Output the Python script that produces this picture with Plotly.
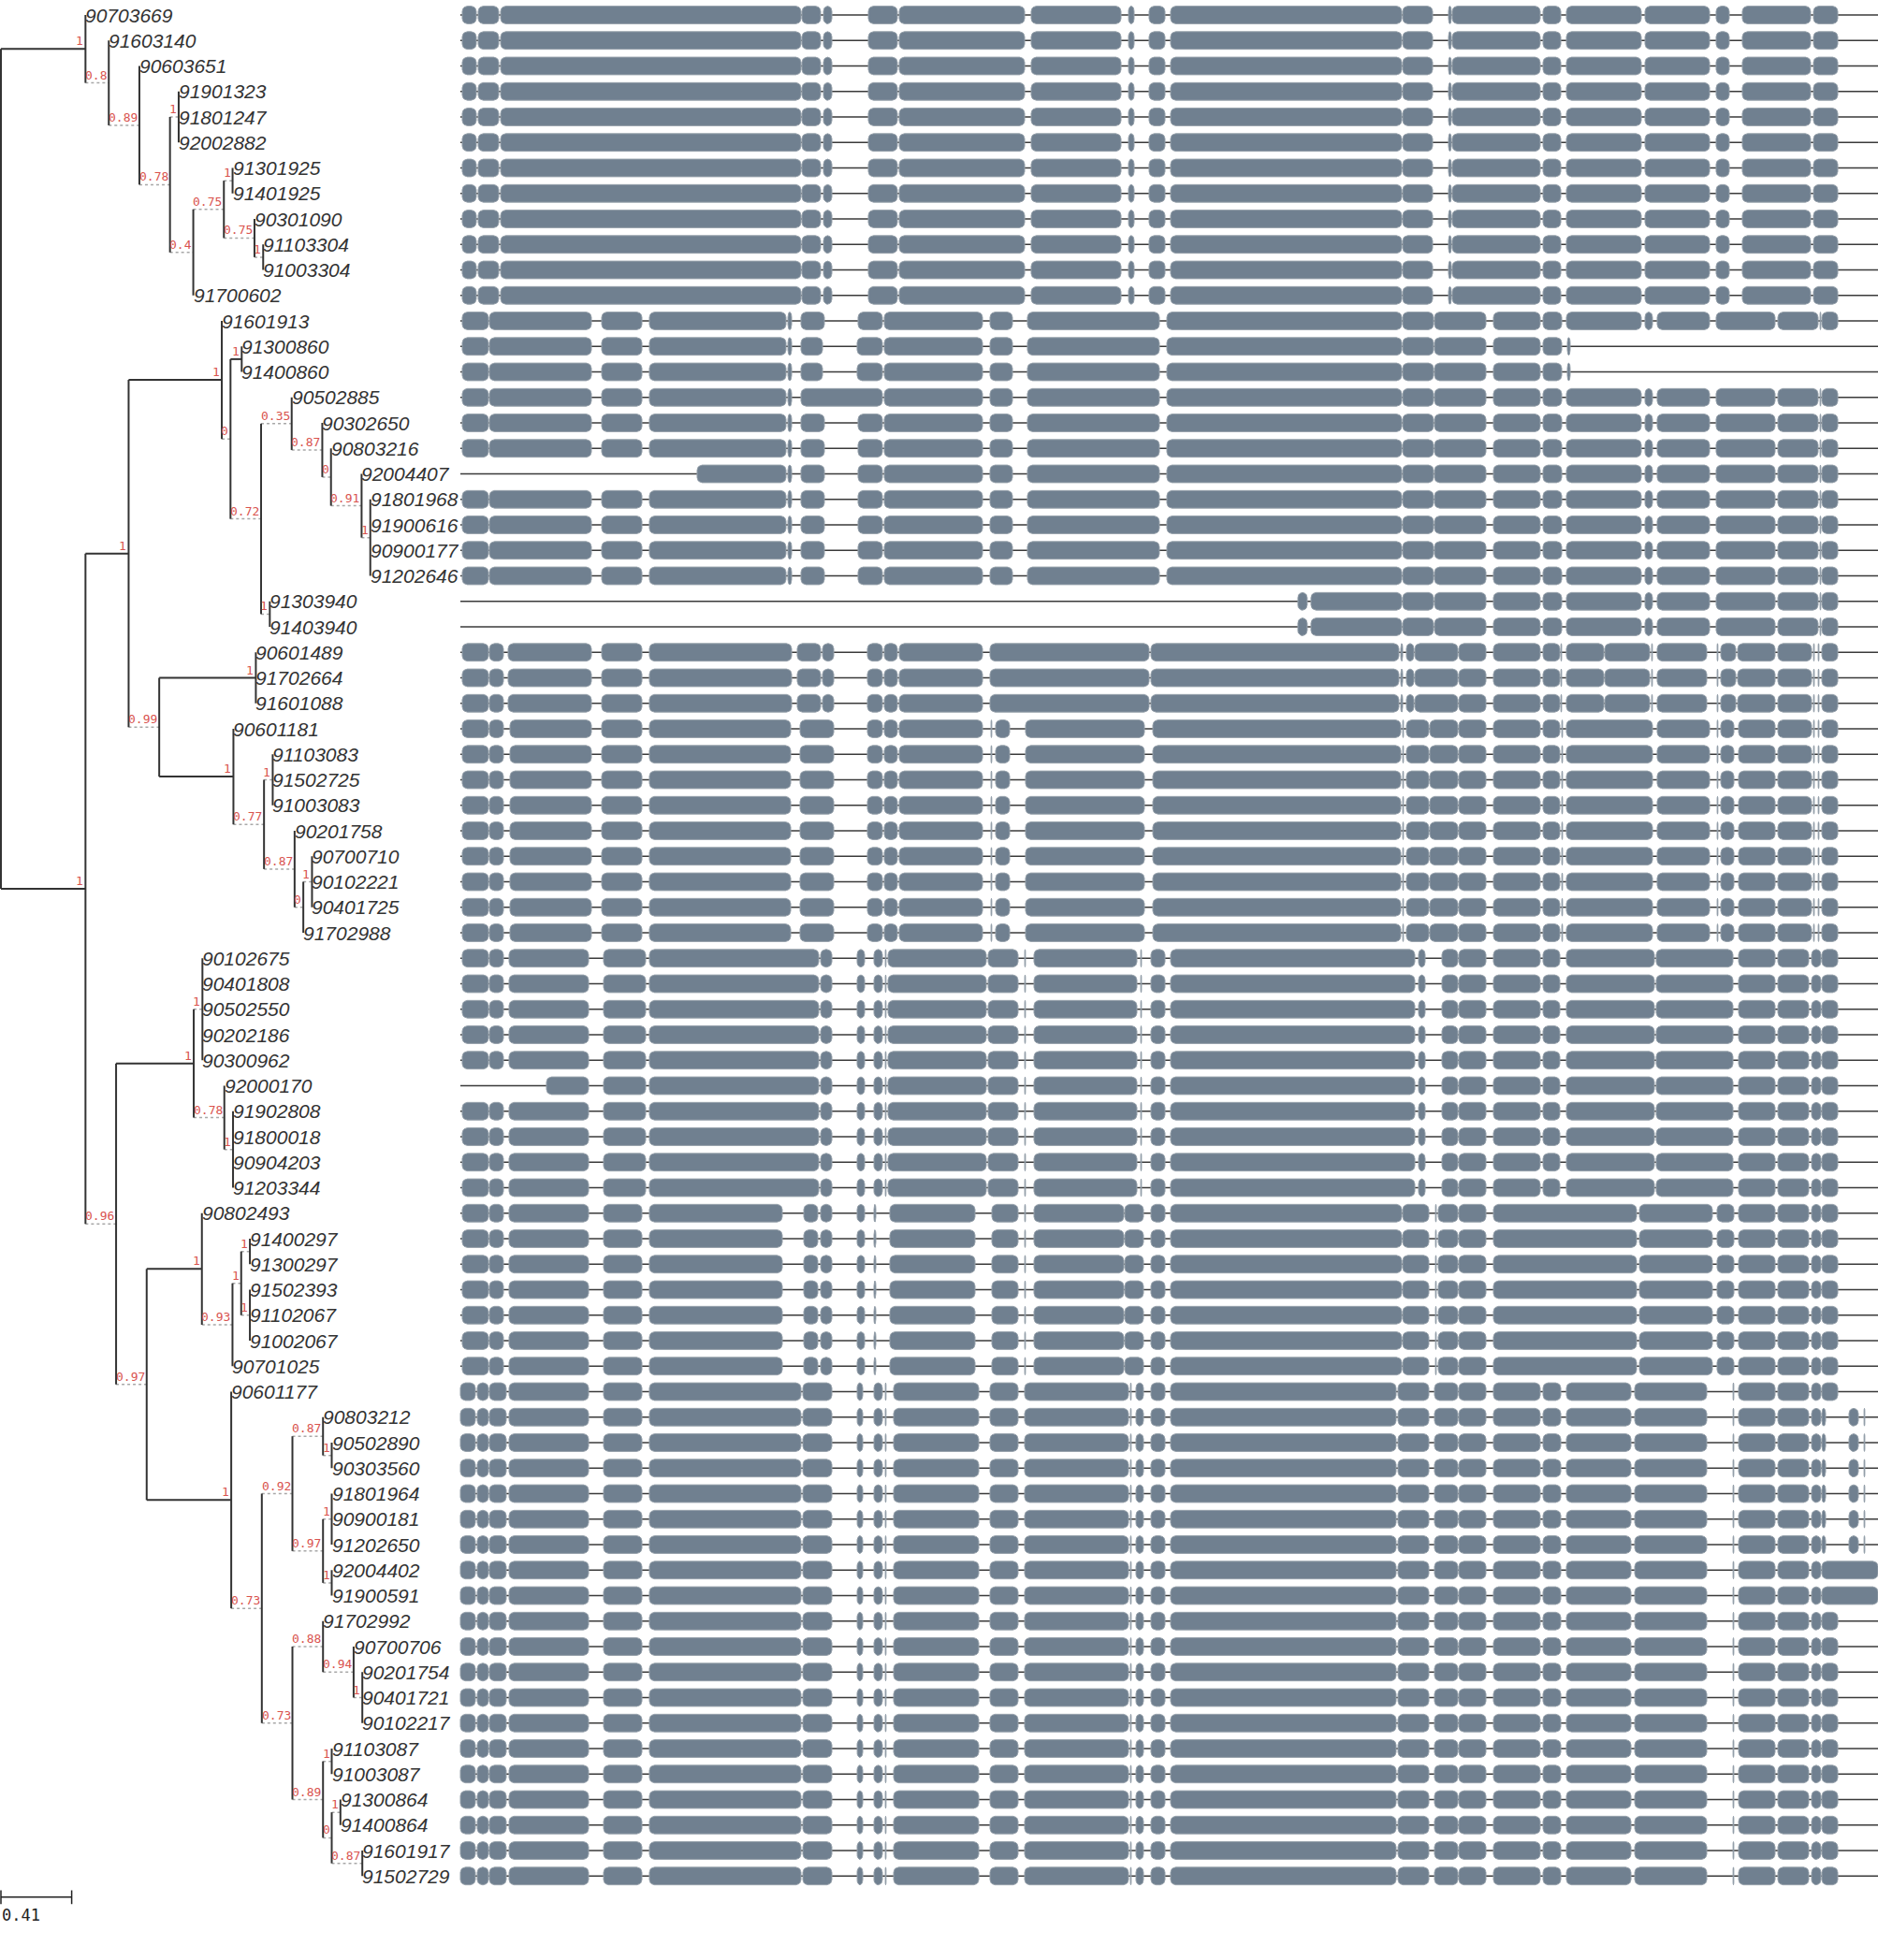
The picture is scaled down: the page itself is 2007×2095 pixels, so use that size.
import math
import plotly.graph_objects as go

# ---------------- DATA ----------------
# Tree (Newick): internal labels are support values, branch lengths in substitutions/site
NEWICK = (
    "("
    "(90703669:0,(91603140:0,(90603651:0,((91901323:0,91801247:0,92002882:0)1:0,"
    "(((91301925:0,91401925:0)1:0,(90301090:0,(91103304:0,91003304:0)1:0)0.75:0)0.75:0,"
    "91700602:0)0.4:0)0.78:0)0.89:0)0.8:0)1:0.49,"
    "("
    "((91601913:0,((91300860:0,91400860:0)1:0.065,"
    "((90502885:0,(90302650:0,(90803216:0,(92004407:0,(91801968:0,91900616:0,90900177:0,"
    "91202646:0)1:0)0.91:0)0:0)0.87:0)0.35:0,(91303940:0,91403940:0)1:0)0.72:0)0:0)1:0.54,"
    "((90601489:0,91702664:0,91601088:0)1:0.56,"
    "(90601181:0,((91103083:0,91502725:0,91003083:0)1:0,"
    "(90201758:0,((90700710:0,90102221:0,90401725:0)1:0,91702988:0)0:0)0.87:0)0.77:0)1:0.43)0.99:0)1:0.25,"
    "(((90102675:0,90401808:0,90502550:0,90202186:0,90300962:0)1:0,"
    "(92000170:0,(91902808:0,91800018:0,90904203:0,91203344:0)1:0)0.78:0)1:0.45,"
    "((90802493:0,(((91400297:0,91300297:0)1:0,(91502393:0,91102067:0,91002067:0)1:0)1:0,"
    "90701025:0)0.93:0)1:0.32,"
    "(90601177:0,("
    "((90803212:0,(90502890:0,90303560:0)1:0)0.87:0,((91801964:0,90900181:0,91202650:0)1:0,"
    "(92004402:0,91900591:0)1:0)0.97:0)0.92:0,"
    "((91702992:0,(90700706:0,(90201754:0,90401721:0,90102217:0)1:0)0.94:0)0.88:0,"
    "((91103087:0,91003087:0)1:0,((91300864:0,91400864:0)1:0,(91601917:0,91502729:0)0.87:0)0:0)0.89:0)0.73:0"
    ")0.73:0)1:0.49)0.97:0)0.96:0"
    ")1:0.49"
    ");"
)

SCALE_BAR_LEN = 0.41
GENE_LEN = 1515  # alignment length (positions)

# exon (start, end) positions along the alignment, per gene model
EXONS_A = [(2, 17), (19, 41), (43, 364), (365, 385), (388, 397), (436, 467), (469, 603), (610, 706),
           (714, 720), (736, 753), (759, 1006), (1007, 1039), (1056, 1059), (1060, 1154), (1157, 1176),
           (1182, 1262), (1266, 1335), (1342, 1356), (1370, 1443), (1446, 1472)]
EXONS_B = [(2, 30), (31, 140), (151, 194), (202, 348), (350, 354), (364, 389), (425, 451), (453, 558),
           (566, 590), (606, 747), (755, 1006), (1007, 1040), (1041, 1096), (1104, 1154), (1157, 1177),
           (1182, 1262), (1266, 1274), (1279, 1335), (1342, 1405), (1408, 1451), (1453, 1454), (1455, 1472)]
EXONS_B_SHORT = [(2, 30), (31, 140), (151, 194), (202, 348), (350, 354), (364, 387), (424, 451), (453, 558),
                 (566, 590), (606, 747), (755, 1006), (1007, 1040), (1041, 1096), (1104, 1154), (1157, 1177),
                 (1183, 1186)]
EXONS_B_FUSED = [(2, 30), (31, 140), (151, 194), (202, 348), (350, 354), (364, 451), (453, 558),
                 (566, 590), (606, 747), (755, 1006), (1007, 1040), (1041, 1096), (1104, 1154), (1157, 1177),
                 (1182, 1262), (1266, 1274), (1279, 1335), (1342, 1405), (1408, 1451), (1453, 1454), (1455, 1472)]
EXONS_B_LATE = [(253, 348), (350, 354), (364, 389), (425, 451), (453, 558),
                (566, 590), (606, 747), (755, 1006), (1007, 1040), (1041, 1096), (1104, 1154), (1157, 1177),
                (1182, 1262), (1266, 1274), (1279, 1335), (1342, 1405), (1408, 1451), (1453, 1454), (1455, 1472)]
EXONS_B_END = [(895, 905), (909, 1006), (1007, 1040), (1041, 1096), (1104, 1154), (1157, 1177),
               (1182, 1262), (1266, 1274), (1279, 1335), (1342, 1405), (1408, 1451), (1453, 1454), (1455, 1472)]
EXONS_C = [(2, 30), (31, 46), (51, 140), (151, 194), (202, 354), (360, 385), (387, 399), (435, 451),
           (453, 467), (469, 558), (566, 736), (738, 1003), (1005, 1007), (1011, 1019), (1020, 1066),
           (1067, 1096), (1104, 1154), (1157, 1175), (1176, 1177), (1182, 1222), (1223, 1271), (1273, 1274),
           (1279, 1332), (1343, 1344), (1347, 1363), (1365, 1405), (1408, 1444), (1446, 1447), (1451, 1452),
           (1455, 1472)]
EXONS_D = [(2, 30), (31, 46), (53, 140), (151, 194), (202, 353), (363, 399), (435, 451), (453, 467),
           (469, 558), (567, 568), (572, 587), (604, 731), (740, 1005), (1007, 1008), (1011, 1035),
           (1036, 1066), (1067, 1096), (1104, 1154), (1157, 1175), (1177, 1178), (1182, 1274), (1279, 1335),
           (1343, 1344), (1347, 1361), (1366, 1405), (1408, 1444), (1446, 1447), (1451, 1452), (1455, 1472)]
EXONS_E = [(2, 30), (31, 46), (52, 137), (153, 198), (202, 383), (385, 397), (424, 432), (442, 451),
           (454, 455), (457, 562), (564, 596), (603, 604), (613, 723), (727, 728), (738, 753), (759, 1020),
           (1024, 1031), (1049, 1066), (1067, 1096), (1104, 1154), (1157, 1175), (1182, 1276), (1278, 1360),
           (1366, 1405), (1408, 1441), (1444, 1454), (1455, 1472)]
EXONS_E_LATE = [(92, 137), (153, 198), (202, 383), (385, 397), (424, 432), (442, 451),
                (454, 455), (457, 562), (564, 596), (603, 604), (613, 723), (727, 728), (738, 753), (759, 1020),
                (1024, 1031), (1049, 1066), (1067, 1096), (1104, 1154), (1157, 1175), (1182, 1276), (1278, 1360),
                (1366, 1405), (1408, 1441), (1444, 1454), (1455, 1472)]
EXONS_F = [(2, 30), (31, 46), (52, 137), (153, 194), (202, 344), (367, 382), (385, 397), (424, 432),
           (442, 444), (459, 550), (568, 596), (603, 604), (613, 709), (710, 730), (738, 753), (759, 1006),
           (1007, 1035), (1042, 1043), (1045, 1066), (1067, 1096), (1104, 1257), (1260, 1338), (1343, 1361),
           (1366, 1405), (1408, 1441), (1444, 1454), (1455, 1472)]
EXONS_G = [(0, 16), (18, 30), (31, 49), (52, 137), (153, 194), (202, 364), (366, 397), (424, 430),
           (442, 451), (454, 455), (463, 554), (566, 596), (603, 714), (716, 717), (722, 730), (738, 753),
           (759, 1000), (1002, 1035), (1041, 1066), (1067, 1096), (1104, 1154), (1157, 1176), (1182, 1251),
           (1255, 1332), (1360, 1361), (1366, 1405), (1408, 1441), (1444, 1454), (1455, 1472)]
EXONS_G_TAIL = EXONS_G[:-1] + [(1455, 1459), (1484, 1494), (1500, 1501)]
EXONS_G_LONG = EXONS_G[:-1] + [(1455, 1515)]

MODELS = {"A": EXONS_A, "B": EXONS_B, "Bs": EXONS_B_SHORT, "Bf": EXONS_B_FUSED, "Bl": EXONS_B_LATE,
          "Be": EXONS_B_END, "C": EXONS_C, "D": EXONS_D, "E": EXONS_E, "El": EXONS_E_LATE,
          "F": EXONS_F, "G": EXONS_G, "Gt": EXONS_G_TAIL, "Gl": EXONS_G_LONG}

# gene model of each leaf, in tree (top-to-bottom) order
ROW_MODELS = (["A"] * 12
              + ["B", "Bs", "Bs", "Bf", "B", "B", "Bl", "B", "B", "B", "B", "Be", "Be"]
              + ["C"] * 3 + ["D"] * 9
              + ["E"] * 5 + ["El"] + ["E"] * 4
              + ["F"] * 7
              + ["G"] + ["Gt"] * 6 + ["Gl"] * 2 + ["G"] * 11)

# ---------------- STYLE / GEOMETRY ----------------
W, H = 2007, 2095
PPU = 184.4          # tree pixels per branch-length unit
TREE_X0 = 1          # px of root
GENE_X0 = 492        # px of alignment start
ROW0, ROWH = 16, 27.25
SUP_CHAR = 7.8       # px per support-label char
EXON_H = 0.69        # rows
RAD_PX = 5.5

LINE_C = "#333333"
SUP_C = "#d9534f"
EXON_C = "#708090"


# ---------------- TREE ----------------
def parse_newick(s):
    pos = 0

    def node():
        nonlocal pos
        n = {"children": [], "name": "", "support": None, "dist": 0.0}
        if s[pos] == "(":
            pos += 1
            while True:
                n["children"].append(node())
                if s[pos] == ",":
                    pos += 1
                    continue
                if s[pos] == ")":
                    pos += 1
                    break
        start = pos
        while s[pos] not in ":,);":
            pos += 1
        label = s[start:pos]
        if s[pos] == ":":
            pos += 1
            start = pos
            while s[pos] not in ",);":
                pos += 1
            n["dist"] = float(s[start:pos])
        if n["children"]:
            n["support"] = label or None
        else:
            n["name"] = label
        return n

    return node()


tree = parse_newick(NEWICK)
leaves = []
internals = []


def place(n, parent_x):
    if parent_x is None:
        n["x"] = n["solid_end"] = 0.0
    else:
        ext = (len(n["support"]) * SUP_CHAR + 1.5) / PPU if n["support"] else 0.0
        n["solid_end"] = parent_x + n["dist"]
        n["x"] = max(n["solid_end"], parent_x + ext)
    n["px"] = parent_x
    if n["children"]:
        for c in n["children"]:
            place(c, n["x"])
        n["y"] = (n["children"][0]["y"] + n["children"][-1]["y"]) / 2
        internals.append(n)
    else:
        n["y"] = len(leaves)
        leaves.append(n)


place(tree, None)

sx, sy, dx, dy = [], [], [], []
for n in internals + leaves:
    if n["px"] is not None:
        if n["solid_end"] > n["px"]:
            sx += [n["px"], n["solid_end"], None]
            sy += [n["y"], n["y"], None]
        if n["x"] > n["solid_end"] + 1e-9:
            dx += [n["solid_end"], n["x"], None]
            dy += [n["y"], n["y"], None]
    if n["children"]:
        sx += [n["x"], n["x"], None]
        sy += [n["children"][0]["y"], n["children"][-1]["y"], None]

fig = go.Figure()
fig.add_trace(go.Scatter(x=dx, y=dy, mode="lines", line=dict(color="#a8a8a8", width=1.5, dash="dot"),
                         hoverinfo="skip", showlegend=False))
fig.add_trace(go.Scatter(x=sx, y=sy, mode="lines", line=dict(color=LINE_C, width=2),
                         hoverinfo="skip", showlegend=False))

annotations = []
for n in leaves:
    annotations.append(dict(x=n["x"], y=n["y"], xref="x", yref="y", text=n["name"], showarrow=False,
                            xanchor="left", yanchor="middle", xshift=-2,
                            font=dict(family="Liberation Sans", size=21, color="#333333", style="italic")))
for n in internals:
    if n["px"] is None or not n["support"]:
        continue
    annotations.append(dict(x=n["x"], y=n["y"], xref="x", yref="y", text=n["support"], showarrow=False,
                            xanchor="right", yanchor="bottom", xshift=0, yshift=-1,
                            font=dict(family="DejaVu Sans Mono", size=13, color=SUP_C)))

# scale bar
n_rows = len(leaves)
yb = n_rows - 1 + 0.83
tk = 0.27
fig.add_trace(go.Scatter(x=[0, SCALE_BAR_LEN, None, 0, 0, None, SCALE_BAR_LEN, SCALE_BAR_LEN],
                         y=[yb, yb, None, yb - tk, yb + tk, None, yb - tk, yb + tk],
                         mode="lines", line=dict(color="#222222", width=1.5),
                         hoverinfo="skip", showlegend=False))
annotations.append(dict(x=0, y=yb, xref="x", yref="y", text=f"{SCALE_BAR_LEN}", showarrow=False,
                        xanchor="left", yanchor="top", yshift=-7, xshift=-1,
                        font=dict(family="DejaVu Sans Mono", size=17, color="#222222")))

# ---------------- GENE STRUCTURES ----------------
ix, iy = [], []
ex, ey = [], []
ry = RAD_PX / ROWH
for i, key in enumerate(ROW_MODELS):
    ix += [0, GENE_LEN, None]
    iy += [i, i, None]
    top, bot = i - EXON_H / 2, i + EXON_H / 2
    for a, b in MODELS[key]:
        rx = min(RAD_PX, (b - a) / 2)
        r_y = min(ry, EXON_H / 2)
        corners = [(b - rx, top + r_y, -90), (b - rx, bot - r_y, 0),
                   (a + rx, bot - r_y, 90), (a + rx, top + r_y, 180)]
        for cx, cy, t0 in corners:
            for k in range(6):
                t = math.radians(t0 + 90 * k / 5)
                ex.append(cx + rx * math.cos(t))
                ey.append(cy + r_y * math.sin(t))
        ex.append(ex[-24])
        ey.append(ey[-24])
        ex.append(None)
        ey.append(None)

fig.add_trace(go.Scatter(x=ix, y=iy, xaxis="x2", yaxis="y", mode="lines",
                         line=dict(color="#3a3a3a", width=1.3), hoverinfo="skip", showlegend=False))
fig.add_trace(go.Scatter(x=ex, y=ey, xaxis="x2", yaxis="y", mode="lines", fill="toself",
                         fillcolor=EXON_C, line=dict(color="#95a0aa", width=1),
                         hoverinfo="skip", showlegend=False))

fig.update_layout(
    width=W, height=H, margin=dict(l=0, r=0, t=0, b=0),
    paper_bgcolor="white", plot_bgcolor="white",
    xaxis=dict(range=[-TREE_X0 / PPU, (W - TREE_X0) / PPU], domain=[0, 1], visible=False, fixedrange=True),
    xaxis2=dict(range=[-GENE_X0, W - GENE_X0], domain=[0, 1], overlaying="x", visible=False, fixedrange=True),
    yaxis=dict(range=[(H - ROW0) / ROWH, -ROW0 / ROWH], domain=[0, 1], visible=False, fixedrange=True),
    annotations=annotations,
    showlegend=False,
)

fig.write_html("out.html", config={"displayModeBar": False},
               post_script="document.body.style.margin='0px';")
